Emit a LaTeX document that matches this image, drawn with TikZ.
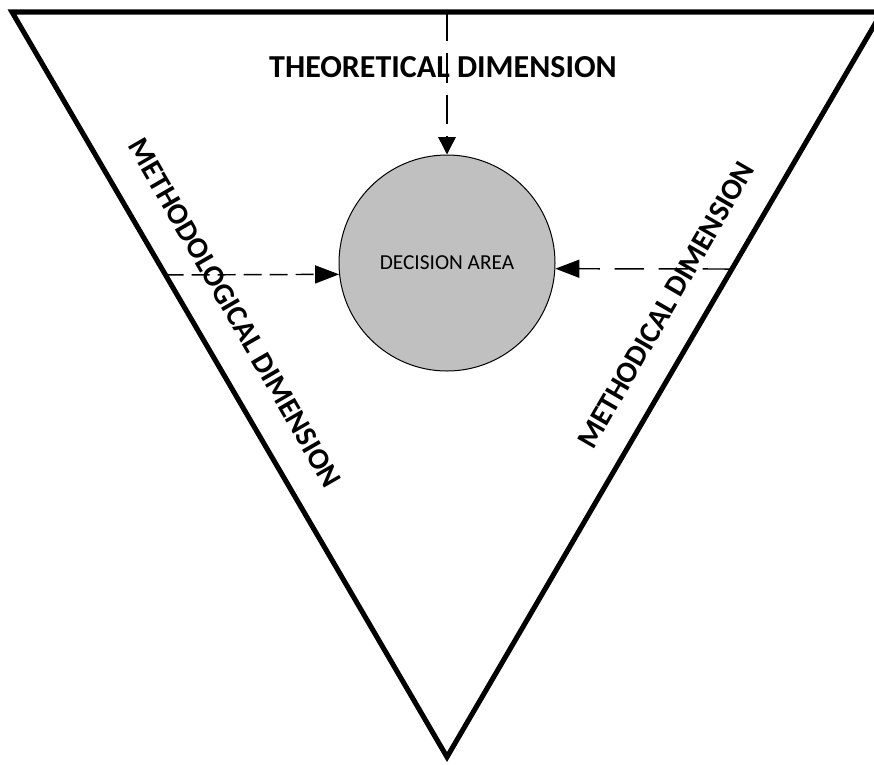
\documentclass[tikz,border=0pt]{standalone}
\usepackage{fontspec}
\setmainfont{Carlito}
\usetikzlibrary{arrows.meta,calc}
\tikzset{
  dimlabel/.style={font=\fontsize{22.5pt}{26pt}\selectfont\bfseries, inner sep=0pt},
  feed/.style={line width=1.1pt, -{Triangle[length=18pt,width=13.5pt]}},
}
\begin{document}
\begin{tikzpicture}[x=0.75pt,y=-0.75pt]
  \useasboundingbox (0,0) rectangle (874,764);
  \coordinate (tl) at (12,12);
  \coordinate (tr) at (882,12);
  \coordinate (bot) at (447,757);
  \draw[line width=3.8pt] (tl) -- (tr) -- (bot) -- cycle;
  \node[circle, draw, line width=0.75pt, fill={rgb,255:red,192;green,192;blue,192},
        minimum size=162pt, inner sep=0pt,
        font=\fontsize{16pt}{19pt}\selectfont] (dec) at (447,263) {DECISION AREA};
  \node[dimlabel, font=\fontsize{24pt}{28pt}\selectfont\bfseries] (theo) at (443,67) {THEORETICAL DIMENSION};
  \node[dimlabel, rotate=-60] (methlog) at (235,313) {METHODOLOGICAL DIMENSION};
  \node[dimlabel, rotate=60] (methic) at (666,305) {METHODICAL DIMENSION};
  % dimensions feeding the decision area
  \coordinate (topin) at ($(tl)!0.5!(tr)$);
  \coordinate (leftin) at ($(tl)!0.353!(bot)$);
  \coordinate (rightin) at ($(tr)!0.345!(bot)$);
  \draw[feed, dash pattern=on 22pt off 9pt, -{Triangle[length=13pt,width=13pt]}] (topin) -- (dec.north);
  \draw[feed, dash pattern=on 13.5pt off 6pt] (leftin) -- (dec.186.4);
  \draw[feed, dash pattern=on 22pt off 11pt] (rightin) -- (dec.-3.2);
\end{tikzpicture}
\end{document}
